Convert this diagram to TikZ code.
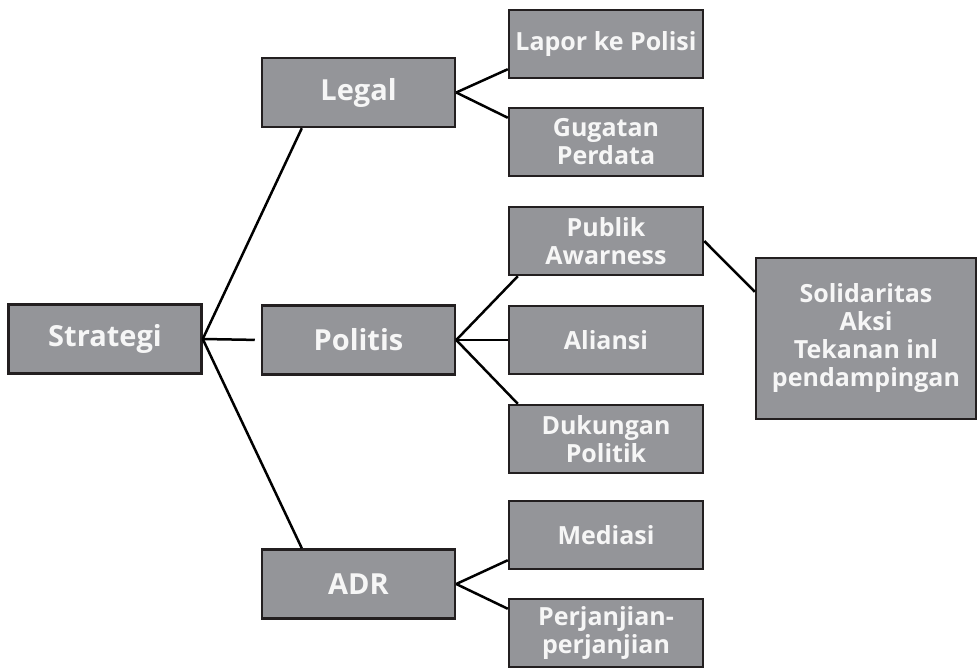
\documentclass[tikz,border=0pt]{standalone}
\usepackage{fontspec}
\setmainfont{Open Sans}
\usetikzlibrary{calc}
\definecolor{boxfill}{RGB}{148,149,153}
\definecolor{boxline}{RGB}{35,31,32}
\definecolor{boxtext}{RGB}{246,246,246}
\begin{document}
\begin{tikzpicture}[x=1pt,y=-1pt,
  box/.style={draw=boxline, line width=2.5pt, fill=boxfill, text=boxtext,
    font=\bfseries\fontsize{25}{28}\selectfont, align=center,
    minimum width=194pt, minimum height=68pt, inner sep=0pt},
  bigbox/.style={box, font=\bfseries\fontsize{29}{34}\selectfont,
    minimum width=193pt, minimum height=69pt},
  conn/.style={draw=black, line width=2.5pt}]
\useasboundingbox (0,0) rectangle (979,668);
\clip (0,0) rectangle (979,668);
\node[bigbox] (strategi) at (105,339) {Strategi};
\node[bigbox] (legal) at (358.5,92.5) {Legal};
\node[bigbox] (politis) at (358.5,340) {Politis};
\node[bigbox] (adr) at (358.5,584) {ADR};
\node[box] (lapor) at (606,44) {Lapor ke Polisi};
\node[box] (gugatan) at (606,142) {Gugatan\\Perdata};
\node[box] (publik) at (606,241) {Publik\\Awarness};
\node[box] (aliansi) at (606,340) {Aliansi};
\node[box] (dukungan) at (606,439) {Dukungan\\Politik};
\node[box] (mediasi) at (606,535) {Mediasi};
\node[box] (perjanjian) at (606,633) {Perjanjian-\\perjanjian};
\node[box, minimum width=220pt, minimum height=161pt] (solid) at (866,338.5)
  {Solidaritas\\Aksi\\Tekanan inl\\pendampingan};
% connectors
\draw[conn] (strategi.east) -- ($(legal.south west)!0.21!(legal.south east)$);
\draw[conn, shorten >=6pt] (strategi.east) -- (politis.west);
\draw[conn] (strategi.east) -- ($(adr.north west)!0.21!(adr.north east)$);
\draw[conn] (legal.east) -- ($(lapor.south west)+(0,-10)$);
\draw[conn] (legal.east) -- ($(gugatan.north west)+(0,11)$);
\draw[conn] (politis.east) -- ($(publik.south west)+(10,0)$);
\draw[conn] (politis.east) -- (aliansi.west);
\draw[conn] (politis.east) -- ($(dukungan.north west)+(10,0)$);
\draw[conn] (publik.east) -- ($(solid.north west)+(0,35)$);
\draw[conn] (adr.east) -- ($(mediasi.south west)+(0,-10)$);
\draw[conn] (adr.east) -- ($(perjanjian.north west)+(0,11)$);
\end{tikzpicture}
\end{document}
